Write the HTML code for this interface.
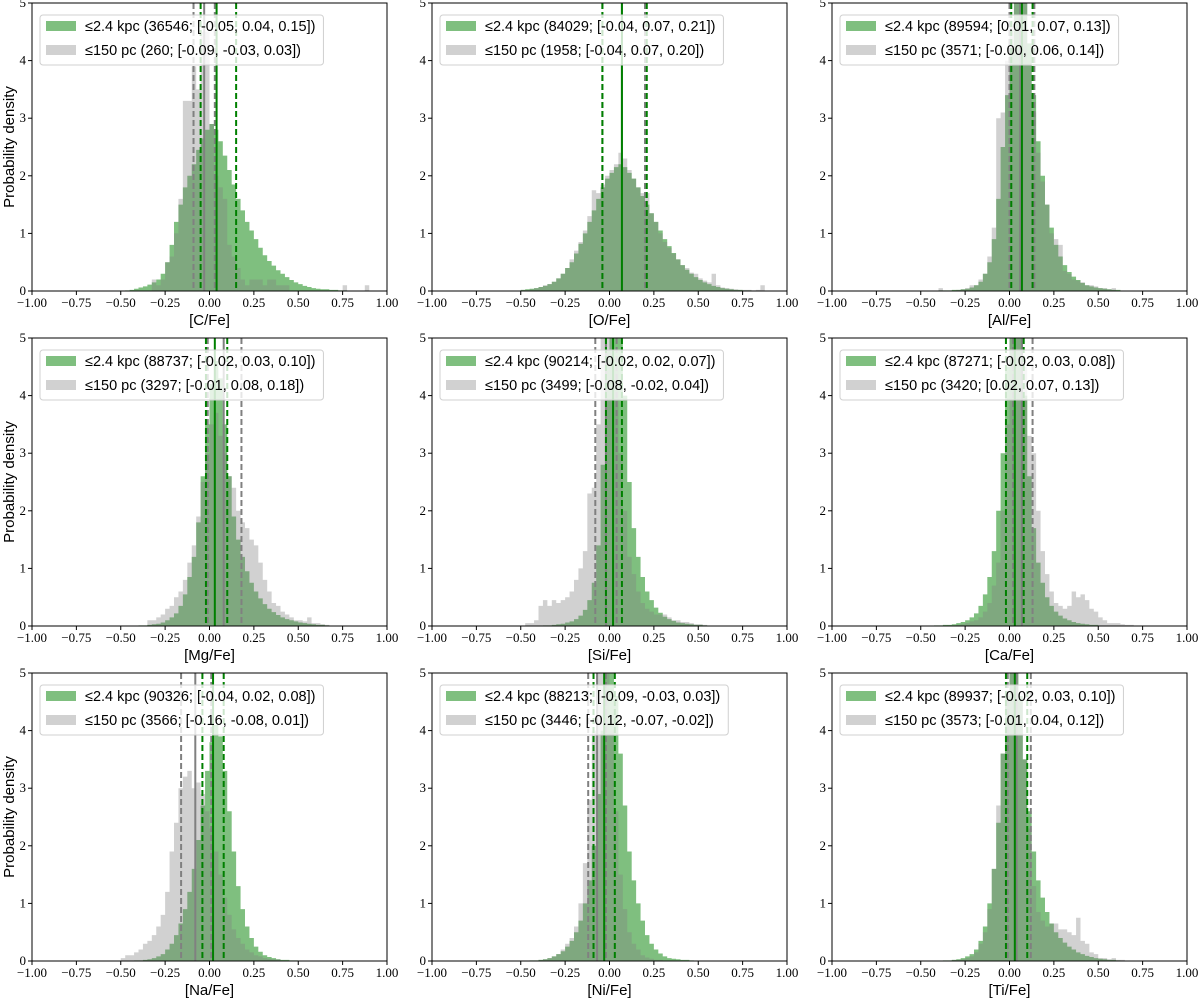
<!DOCTYPE html>
<html><head><meta charset="utf-8">
<style>
html,body{margin:0;padding:0;background:#fff;}
svg{display:block;}
.tick{font-family:"Liberation Serif",serif;font-size:13px;fill:#000;}
.lab{font-family:"Liberation Sans",sans-serif;font-size:15px;fill:#000;}
.leg{font-family:"Liberation Sans",sans-serif;font-size:14.5px;fill:#000;}
</style></head>
<body>
<svg id="fig" width="1200" height="1001" viewBox="0 0 1200 1001" xmlns="http://www.w3.org/2000/svg"></svg>
<script>
// bins: width 0.025, first bin starts at -0.5
const binStart = -0.5;
const binWidth = 0.025;
const elements = ["C","O","Al","Mg","Si","Ca","Na","Ni","Ti"];
const greenCounts = ["36546","84029","89594","88737","90214","87271","90326","88213","89937"];
const grayCounts = ["260","1958","3571","3297","3499","3420","3566","3446","3573"];
const greenPct = [[-0.05,0.04,0.15],[-0.04,0.07,0.21],[0.01,0.07,0.13],[-0.02,0.03,0.10],[-0.02,0.02,0.07],[-0.02,0.03,0.08],[-0.04,0.02,0.08],[-0.09,-0.03,0.03],[-0.02,0.03,0.10]];
const grayPct = [[-0.09,-0.03,0.03],[-0.04,0.07,0.20],[-0.00,0.06,0.14],[-0.01,0.08,0.18],[-0.08,-0.02,0.04],[0.02,0.07,0.13],[-0.16,-0.08,0.01],[-0.12,-0.07,-0.02],[-0.01,0.04,0.12]];
const greenC = [0,.01,.02,.04,.06,.08,.11,.15,.2,.3,.5,.8,1.2,1.5,1.8,2.0,2.2,2.45,2.65,2.8,2.9,2.8,2.6,2.35,2.1,1.85,1.6,1.4,1.2,1.05,.9,.75,.62,.52,.44,.36,.3,.24,.19,.15,.12,.09,.07,.05,.04,.03,.03,.02,.02,.01,.01];
const grayC = [0,0,0,0,0,0,0,.2,.1,.2,.5,.6,1.0,1.6,3.3,3.3,3.9,3.5,4.5,4.5,2.9,2.0,1.8,1.6,.8,.6,.4,.2,.1,.2,.2,.2,.1,.2,.2,.1,.1,.1,0,0,0,0,0,0,0,0,0,0,0,0,.1,0,0,0,0,.1];
const greenO = [.02,.03,.04,.05,.07,.09,.12,.16,.22,.3,.4,.5,.65,.82,1.0,1.2,1.4,1.6,1.8,1.95,2.05,2.15,2.2,2.15,2.05,1.95,1.8,1.65,1.5,1.35,1.2,1.05,.9,.78,.66,.55,.45,.37,.3,.24,.19,.15,.12,.09,.07,.05,.04,.03,.02,.02,.01,.01];
const grayO = [.02,.02,.03,.05,.07,.1,.12,.16,.22,.3,.4,.55,.7,.85,1.05,1.3,1.75,1.7,1.85,2.0,2.1,2.2,2.4,2.3,2.1,1.95,1.8,1.7,1.7,1.35,1.2,1.0,.85,.75,.65,.55,.45,.4,.32,.3,.22,.18,.15,.3,.1,.06,.05,.04,.03,.02,.02,.02,.01,.02,.1];
const greenAl = [0,0,0,0,.01,.01,.01,.02,.02,.03,.04,.06,.1,.16,.3,.5,.9,1.6,2.5,3.4,4.2,5.2,5.6,5.2,4.3,3.4,2.6,2.0,1.5,1.1,.8,.6,.45,.33,.25,.19,.14,.1,.08,.06,.05,.04,.03,.02,.02];
const grayAl = [0,0,0,0,.05,0,0,0,.02,.03,.05,.1,.1,.2,.3,.6,1.1,3.0,3.1,4.0,4.6,5.5,5.5,5.0,4.0,3.1,2.4,1.9,1.5,1.0,.9,.8,.35,.3,.2,.18,.15,.1,.1,.08,.05,.05,.03,.05];
const greenMg = [0,0,0,0,.01,.01,.02,.03,.04,.06,.1,.15,.22,.35,.55,.85,1.2,1.8,2.6,3.5,4.2,4.6,4.3,3.5,2.6,1.9,1.5,1.2,.95,.75,.6,.48,.38,.3,.24,.19,.15,.12,.1,.08,.06,.05,.04,.03,.02,.02,.01];
const grayMg = [0,0,0,0,0,0,.1,.1,.15,.2,.3,.35,.5,.6,.8,1.1,1.4,1.9,2.5,3.0,3.5,3.7,3.3,3.0,2.6,2.4,2.0,1.8,1.7,1.5,1.4,1.1,.8,.6,.4,.35,.25,.2,.15,.1,.1,.08,.15,.05,.05,.03,.02];
const greenSi = [0,0,0,0,0,.01,.01,.02,.03,.04,.06,.08,.12,.18,.28,.45,.75,1.4,2.8,4.8,6,6,5.5,4.0,2.5,1.7,1.2,.85,.6,.45,.32,.23,.16,.12,.09,.06,.05,.04,.03,.02,.02,.01];
const graySi = [0,.05,.05,.1,.35,.45,.35,.45,.4,.45,.5,.6,.8,1.0,1.3,2.3,2.4,3.5,5.2,5.5,5.5,4.5,3.0,2.0,1.2,.9,.6,.4,.3,.25,.2,.2,.2,.15,.1,.1,.07,.07,.05,.03,.03,.02];
const greenCa = [0,0,0,.01,.01,.02,.02,.03,.05,.07,.1,.15,.22,.35,.55,.85,1.3,2.0,3.0,4.5,5.5,5.8,5.3,4.0,2.6,1.7,1.1,.75,.5,.35,.25,.18,.13,.1,.07,.05,.04,.03,.02,.02];
const grayCa = [0,0,0,0,0,0,.01,.01,.02,.03,.05,.08,.1,.15,.25,.4,.7,1.1,2.0,3.5,5,5.5,5.5,4.5,3.3,3.0,2.0,1.3,.9,.6,.4,.35,.3,.35,.6,.5,.55,.45,.3,.25,.15,.1,.05,.05,.05,.03,.02,.02];
const greenNa = [0,0,0,.01,.01,.02,.03,.05,.08,.12,.2,.3,.45,.65,.9,1.2,1.6,2.1,2.7,3.3,3.8,4.1,3.9,3.3,2.6,1.9,1.3,.9,.6,.4,.25,.16,.1,.07,.05,.03,.02,.02,.01,.01];
const grayNa = [.05,.1,.1,.15,.2,.3,.35,.45,.6,.8,1.2,1.9,2.4,3.0,3.2,3.3,3.0,3.1,2.9,2.6,2.3,1.9,1.5,1.1,.8,.55,.4,.3,.2,.15,.1,.08,.05,.04,.03,.03];
const greenNi = [0,0,.01,.01,.02,.03,.05,.08,.12,.17,.25,.35,.5,.7,1.0,1.4,2.0,2.9,4.0,5.0,5.2,4.6,3.6,2.7,1.9,1.4,1.0,.7,.45,.3,.2,.13,.08,.05,.04,.03,.02,.02,.01];
const grayNi = [0,0,0,0,.02,.03,.05,.08,.12,.2,.3,.4,.6,1.0,1.7,2.8,4.0,5.3,5.5,5.3,4.0,2.6,1.5,.9,.5,.3,.2,.1,.06,.04,.02,.02];
const greenTi = [0,0,0,0,0,.01,.01,.02,.03,.05,.08,.12,.2,.35,.6,1.0,1.6,2.4,3.6,4.6,5.3,5.5,4.6,3.5,2.6,1.9,1.4,1.1,.85,.65,.5,.4,.32,.25,.2,.15,.12,.09,.07,.05,.04,.03,.02,.02,.01];
const grayTi = [0,0,0,0,0,0,0,.02,.02,.03,.05,.08,.15,.3,.5,.9,1.6,2.7,3.6,4.5,5.2,5.3,4.5,3.5,2.3,1.3,.85,.7,.6,.65,.65,.55,.55,.5,.45,.75,.35,.3,.15,.12,.05,.05,.03,.05,.02,.02];
const greenSeries = [greenC,greenO,greenAl,greenMg,greenSi,greenCa,greenNa,greenNi,greenTi];
const graySeries = [grayC,grayO,grayAl,grayMg,graySi,grayCa,grayNa,grayNi,grayTi];
const xTicks = [-1,-0.75,-0.5,-0.25,0,0.25,0.5,0.75,1];
const xTickLabels = ["\u22121.00","\u22120.75","\u22120.50","\u22120.25","0.00","0.25","0.50","0.75","1.00"];
const yTicks = [0,1,2,3,4,5];

const NS = "http://www.w3.org/2000/svg";
const fig = document.getElementById('fig');
function mk(tag, attrs, parent){const e=document.createElementNS(NS,tag);for(const k in attrs)e.setAttribute(k,attrs[k]);parent.appendChild(e);return e;}
const colL=[32,432,832], rowT=[3,338,673], W=355, H=288;

elements.forEach((el, p) => {
  const L = colL[p%3], T = rowT[Math.floor(p/3)];
  const g = mk('g',{},fig);
  
  
  const clipId = 'clip'+p;
  const cp = mk('clipPath',{id:clipId},g); mk('rect',{x:L,y:T,width:W,height:H},cp);
  const sx = v => L + (v+1)/2*W;
  const sy = v => T + H - v/5*H;
  const plot = mk('g',{'clip-path':'url(#'+clipId+')'},g);
  const drawHist = (arr, fill, name) => {
    const hg = mk('g',{},plot);
    
    
    let d = 'M'+sx(binStart)+','+sy(0);
    arr.forEach((v,i)=>{const x0=sx(binStart+i*binWidth), x1=sx(binStart+(i+1)*binWidth);d+='L'+x0+','+sy(v)+'L'+x1+','+sy(v);});
    d += 'L'+sx(binStart+arr.length*binWidth)+','+sy(0)+'Z';
    mk('path',{d:d,fill:fill,stroke:'none'},hg);
  };
  drawHist(greenSeries[p],'rgba(0,128,0,0.5)','hist-2.4kpc');
  drawHist(graySeries[p],'rgba(128,128,128,0.36)','hist-150pc');
  const vline = (v,col,dash,name) => {
    const l = mk('line',{x1:sx(v),x2:sx(v),y1:T,y2:T+H,stroke:col,'stroke-width':2},plot);
    if(dash) l.setAttribute('stroke-dasharray','6,3');
    
    
  };
  vline(grayPct[p][0],'#808080',true,'gray-p16-line');
  vline(grayPct[p][2],'#808080',true,'gray-p84-line');
  vline(grayPct[p][1],'#808080',false,'gray-median-line');
  vline(greenPct[p][0],'#008000',true,'green-p16-line');
  vline(greenPct[p][2],'#008000',true,'green-p84-line');
  vline(greenPct[p][1],'#008000',false,'green-median-line');
  mk('rect',{x:L,y:T,width:W,height:H,fill:'none',stroke:'#000','stroke-width':1},g);
  xTicks.forEach((t,i)=>{
    mk('line',{x1:sx(t),x2:sx(t),y1:T+H,y2:T+H+4,stroke:'#000','stroke-width':1},g);
    const tx = mk('text',{x:sx(t),y:T+H+16,'text-anchor':'middle',class:'tick'},g);
    tx.textContent = xTickLabels[i];
    
    
  });
  yTicks.forEach(t=>{
    mk('line',{x1:L-4,x2:L,y1:sy(t),y2:sy(t),stroke:'#000','stroke-width':1},g);
    const ty = mk('text',{x:L-6,y:sy(t)+4,'text-anchor':'end',class:'tick'},g);
    ty.textContent = String(t);
    
    
  });
  const xl = mk('text',{x:L+W/2,y:T+H+34,'text-anchor':'middle',class:'lab'},g);
  xl.textContent = '['+el+'/Fe]';
  
  
  if(p%3===0){
    const yl = mk('text',{x:0,y:0,'text-anchor':'middle',class:'lab',transform:'translate(14,'+(T+H/2)+') rotate(-90)'},g);
    yl.textContent = 'Probability density';
    
    
  }
  // legend
  const lg = mk('g',{},g);
  
  
  const box = mk('rect',{x:L+8,y:T+12,width:280,height:50,rx:3,fill:'rgba(255,255,255,0.8)',stroke:'#d0d0d0','stroke-width':1},lg);
  mk('rect',{x:L+14,y:T+18,width:30,height:10,fill:'rgba(0,128,0,0.5)'},lg);
  mk('rect',{x:L+14,y:T+42,width:30,height:10,fill:'rgba(128,128,128,0.36)'},lg);
  const f = v => (v<0?'-':'')+Math.abs(v).toFixed(2);
  const fz = (v,i,arr) => (arr===grayPct[2]&&i===0)?'-0.00':f(v);
  const t1 = mk('text',{x:L+53,y:T+28,class:'leg'},lg);
  t1.textContent = '\u22642.4 kpc ('+greenCounts[p]+'; ['+greenPct[p].map(f).join(', ')+'])';
  
  
  const t2 = mk('text',{x:L+53,y:T+52,class:'leg'},lg);
  t2.textContent = '\u2264150 pc ('+grayCounts[p]+'; ['+grayPct[p].map((v,i,a)=>fz(v,i,a)).join(', ')+'])';
  
  
  const w = Math.max(t1.getComputedTextLength(), t2.getComputedTextLength());
  box.setAttribute('width', 53 + w + 8 - 8);
});
</script>
</body></html>
